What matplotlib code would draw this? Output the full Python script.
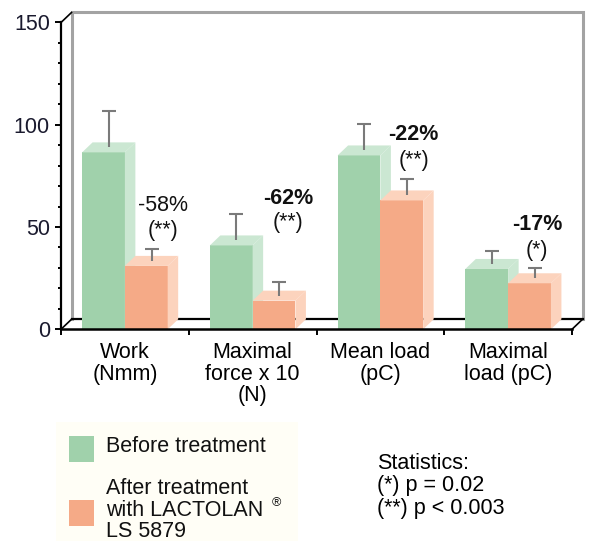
import matplotlib
matplotlib.use("Agg")
import matplotlib.pyplot as plt
from matplotlib.patches import Polygon, Rectangle

plt.rcParams['font.family'] = ['Liberation Sans', 'DejaVu Sans']

# ---- data ----
categories = ["Work\n(Nmm)", "Maximal\nforce x 10\n(N)", "Mean load\n(pC)", "Maximal\nload (pC)"]
before = [86.5, 41, 85, 29.5]
before_err = [18, 13, 13, 6.5]
after = [31, 14, 63, 22.5]
after_err = [6, 6.5, 8, 5]
changes = ["-58%", "-62%", "-22%", "-17%"]
signif = ["(**)", "(**)", "(**)", "(*)"]
change_bold = [False, True, True, True]
yticks = [0, 50, 100, 150]
series_labels = ["Before treatment", "After treatment\nwith LACTOLAN\nLS 5879"]
registered = "\u00ae"
stats_text = "Statistics:\n(*) p = 0.02\n(**) p < 0.003"

# ---- layout (not data) ----
label_x_off = [0.30, 0.28, 0.26, 0.225]
label_y_pct = [60.5, 64, 95, 51]
label_y_sig = [48.5, 52, 82.5, 38.5]

green = "#a0d1ab"
green_l = "#cbe7d2"
orange = "#f5aa87"
orange_l = "#fcd3bd"
wall = "#a3a3a3"
errc = "#7a7a7a"

W, H = 590, 542
fig = plt.figure(figsize=(W / 100, H / 100), dpi=100)
x0p, x1p, y0p, y1p = 61, 572, 329.3, 22.5
ax = fig.add_axes([x0p / W, (H - y0p) / H, (x1p - x0p) / W, (y0p - y1p) / H])
ax.set_xlim(-0.5, 3.5)
ax.set_ylim(0, 150)

px_x = (x1p - x0p) / 4.0
px_y = (y0p - y1p) / 150.0
dx = 10.5 / px_x
dy = 10.0 / px_y
cap = 7.0 / px_x

# back wall / floor
ax.plot([-0.5 + dx, -0.5 + dx, 3.5 + dx, 3.5 + dx], [dy, 150 + dy, 150 + dy, dy],
        color=wall, lw=2.2, clip_on=False, zorder=1, solid_joinstyle='miter')
ax.plot([-0.5 + dx, 3.5 + dx], [dy, dy], color='black', lw=1.6, clip_on=False, zorder=1)
ax.plot([-0.5, -0.5 + dx], [0, dy], color='black', lw=1.2, clip_on=False, zorder=1)
ax.plot([3.5, 3.5 + dx], [0, dy], color='black', lw=1.2, clip_on=False, zorder=1)
ax.plot([-0.5, -0.5 + dx], [150, 150 + dy], color='black', lw=1.2, clip_on=False, zorder=1)

bw = 0.335


def bar3d(xc, h, err, front, light, z):
    ax.bar([xc], [h], width=bw, color=front, zorder=z, linewidth=0)
    xl, xr = xc - bw / 2, xc + bw / 2
    ax.add_patch(Polygon([(xr, 0), (xr + dx, dy), (xr + dx, h + dy), (xr, h)],
                         closed=True, facecolor=light, edgecolor='none', zorder=z))
    ax.add_patch(Polygon([(xl, h), (xr, h), (xr + dx, h + dy), (xl + dx, h + dy)],
                         closed=True, facecolor=light, edgecolor='none', zorder=z))
    xe = xc + dx / 2
    base = h + dy / 2
    ax.vlines([xe], [base], [base + err], colors=errc, linewidth=1.5, zorder=z + 0.5)
    ax.hlines([base + err], [xe - cap], [xe + cap], colors=errc, linewidth=1.5, zorder=z + 0.5)


for i in range(len(categories)):
    bar3d(i - bw / 2, before[i], before_err[i], green, green_l, 3)
    bar3d(i + bw / 2, after[i], after_err[i], orange, orange_l, 4)
    ax.text(i + label_x_off[i], label_y_pct[i], changes[i], ha='center', va='center',
            fontsize=15.5, fontweight='bold' if change_bold[i] else 'normal', color='#111111')
    ax.text(i + label_x_off[i], label_y_sig[i], signif[i], ha='center', va='center',
            fontsize=15.5, color='#111111')

# axes styling
for s in ['top', 'right']:
    ax.spines[s].set_visible(False)
ax.spines['left'].set_linewidth(1.6)
ax.spines['bottom'].set_linewidth(1.8)
ax.spines['left'].set_zorder(6)
ax.spines['bottom'].set_zorder(6)
ax.set_yticks(yticks)
ax.set_yticklabels([str(v) for v in yticks], fontsize=15.5, color='#1a1a2e')
ax.set_yticks(range(0, 151, 10), minor=True)
ax.tick_params(axis='y', which='major', direction='out', length=4, width=1.4, pad=4)
ax.tick_params(axis='y', which='minor', direction='out', length=2.2, width=1.4)
ax.set_xticks([-0.5, 0.5, 1.5, 2.5, 3.5])
ax.set_xticklabels([])
ax.tick_params(axis='x', which='major', direction='out', length=4, width=1.4)
ax.set_xticks(range(len(categories)), minor=True)
ax.set_xticklabels(categories, minor=True, fontsize=15.5, linespacing=1.05)
ax.tick_params(axis='x', which='minor', length=0, pad=9)
ax.patch.set_alpha(0)

# legend (manual)
fig.add_artist(Rectangle((56 / W, 1 - 541 / H), (298 - 56) / W, (541 - 422) / H,
                         transform=fig.transFigure, facecolor='#fffef6', edgecolor='none', zorder=0))
handles_col = [green, orange]
sq_y = [449, 513]
txt_y = [447, 510]
for c, yy, ty, lab in zip(handles_col, sq_y, txt_y, series_labels):
    fig.add_artist(Rectangle((69 / W, 1 - (yy + 13) / H), 25 / W, 26 / H,
                             transform=fig.transFigure, facecolor=c, edgecolor='none'))
    fig.text(106 / W, 1 - ty / H, lab, ha='left', va='center', fontsize=15.5,
             linespacing=1.05, color='#111111')
fig.text(272 / W, 1 - 503 / H, registered, ha='left', va='center', fontsize=9, color='#111111')

fig.text(377 / W, 1 - 486 / H, stats_text, ha='left', va='center', fontsize=15.5,
         linespacing=1.1, color='black')

fig.savefig("out.png", dpi=100)
